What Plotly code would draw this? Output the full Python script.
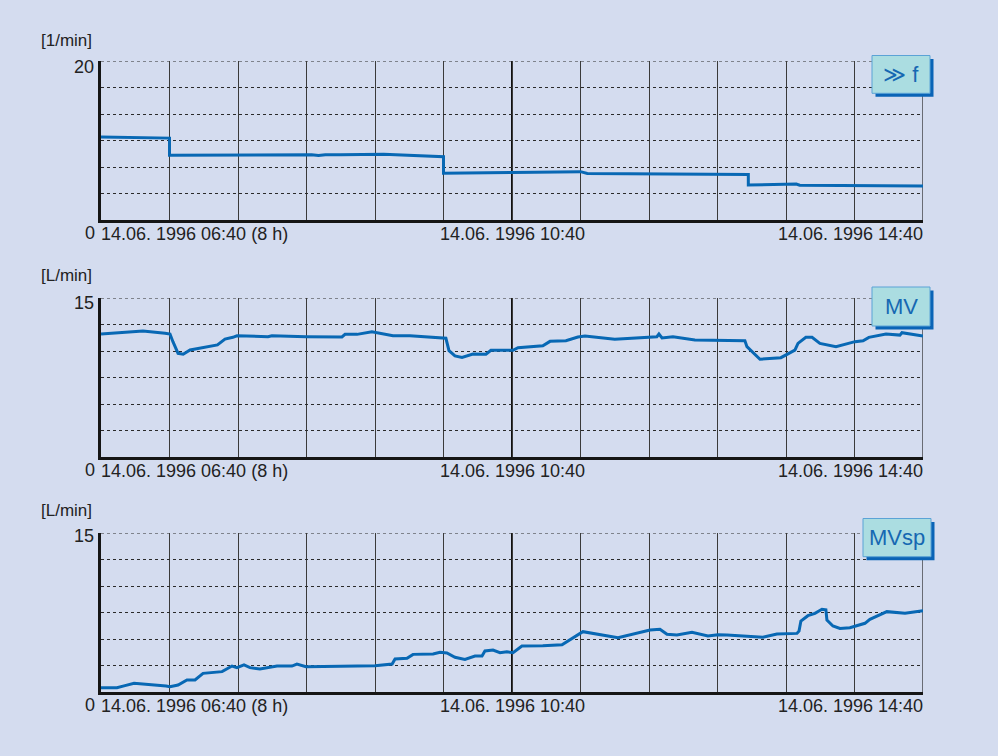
import pandas as pd
import plotly.graph_objects as go

# ---------------- data ----------------
START = pd.Timestamp("1996-06-14 06:40")
SPAN_MIN = 480

# f [1/min]  (minutes after 06:40)
f_t = [0, 40, 40, 120, 123, 127, 131, 140, 165, 200, 200, 240, 280, 284, 320, 361, 378, 378, 406, 408, 443, 480]
f_v = [10.45, 10.3, 8.15, 8.15, 8.2, 8.1, 8.2, 8.2, 8.27, 7.96, 5.87, 5.98, 6.08, 5.85, 5.8, 5.8, 5.72, 4.4, 4.53, 4.38, 4.35, 4.28]

# MV [L/min]
mv_t = [0, 11, 24.5, 37.4, 40.3, 42, 45, 48, 52, 68, 72.4, 77, 79.4, 97.5, 99.8, 119.7, 140.7, 142.5,
        149.5, 158.2, 170.5, 180.4, 201.4, 203.2, 206.7, 210.8, 217.2, 224.8, 227.7, 240.6, 243.5, 258,
        262.2, 271.5, 278.5, 282.6, 288.4, 300, 324.6, 325.8, 327.6, 334, 346.8, 376, 377.2, 384.8, 397,
        401.1, 405.2, 407, 411.6, 415.2, 419.8, 429.2, 440.3, 445, 448.4, 458.4, 466.5, 467.7, 480]
mv_v = [11.6, 11.76, 11.89, 11.67, 11.6, 10.88, 9.78, 9.69, 10.1, 10.57, 11.13, 11.29, 11.44, 11.35, 11.44,
        11.35, 11.33, 11.57, 11.57, 11.82, 11.44, 11.44, 11.2, 10.03, 9.53, 9.4, 9.72, 9.69, 10.06, 10.06,
        10.31, 10.5, 10.91, 10.97, 11.32, 11.41, 11.29, 11.1, 11.35, 11.6, 11.23, 11.35, 11.04, 10.97, 10.41,
        9.22, 9.37, 9.72, 10.09, 10.72, 11.29, 11.29, 10.72, 10.41, 10.88, 10.97, 11.29, 11.6, 11.5, 11.73, 11.41]

# MVsp [L/min]
mvsp_t = [0, 9.3, 14, 19.3, 38, 40.3, 45, 50.2, 54.9, 59.6, 70.7, 76.5, 79.4, 83.5, 87, 92.8, 102.8, 111.5,
          114.4, 119.7, 160, 170, 171.7, 178.7, 182.2, 193.9, 198, 202, 206.7, 212.5, 218.4, 222.5, 224.2,
          228.9, 233, 237, 240.6, 245.8, 258, 269.2, 281.4, 301.9, 320.6, 326.4, 330.5, 336.3, 345.1, 354.4,
          360.3, 365.5, 386.5, 394.7, 406.4, 407.6, 408.7, 412.8, 416.9, 421, 423.3, 423.9, 427.4, 431.5,
          437.3, 446.1, 449, 458.9, 469.5, 480]
mvsp_v = [0.41, 0.41, 0.6, 0.82, 0.57, 0.5, 0.66, 1.13, 1.13, 1.76, 1.92, 2.45, 2.3, 2.55, 2.3, 2.17, 2.45, 2.45,
          2.64, 2.39, 2.48, 2.64, 3.11, 3.18, 3.55, 3.58, 3.74, 3.68, 3.27, 3.08, 3.4, 3.4, 3.87, 3.96, 3.71,
          3.8, 3.71, 4.34, 4.37, 4.46, 5.69, 5.12, 5.85, 5.91, 5.44, 5.38, 5.63, 5.28, 5.41, 5.38, 5.16, 5.47,
          5.53, 5.75, 6.7, 7.2, 7.42, 7.8, 7.75, 6.79, 6.23, 6.0, 6.07, 6.48, 6.86, 7.58, 7.42, 7.67]

panel_names = ["≫ f", "MV", "MVsp"]
panel_units = ["[1/min]", "[L/min]", "[L/min]"]
panel_ymax = [20, 15, 15]
y_top_labels = ["20", "15", "15"]
y_zero_label = "0"
x_labels = ["14.06. 1996 06:40 (8 h)", "14.06. 1996 10:40", "14.06. 1996 14:40"]
x_label_min = [0, 240, 480]
series = [(f_t, f_v), (mv_t, mv_v), (mvsp_t, mvsp_v)]

# ---------------- styling / layout ----------------
W, H = 998, 756
BG = "#D4DCEF"
LINE = "#0868B4"
TXT = "#222222"
FONT = "Liberation Sans, Arial, DejaVu Sans, sans-serif"

X_LEFT, X_RIGHT = 101, 923
panel_px = [(61, 220), (298, 457), (533, 692)]   # top, bottom in pixels
box_px = [(872, 55.5, 930, 93.3), (872, 287, 930, 326), (863, 518.5, 931, 556.7)]
top_label_shift = [-5.5, -5, -3]
unit_shift = [21, 22.5, 23]


def px_x(x):
    return x / W


def px_y(y):
    return 1 - y / H


def tmin(m):
    return START + pd.to_timedelta(m, unit="min")


END = tmin(SPAN_MIN)

fig = go.Figure()
shapes = []
annotations = []

for i in range(3):
    k = "" if i == 0 else str(i + 1)
    xa, ya = "x" + k, "y" + k
    t, v = series[i]
    fig.add_trace(go.Scatter(
        x=[tmin(m) for m in t], y=v, mode="lines",
        line=dict(color=LINE, width=3), xaxis=xa, yaxis=ya,
        showlegend=False, hoverinfo="skip"))

    top, bot = panel_px[i]
    fig.update_layout(**{
        "xaxis" + k: dict(
            type="date", domain=[px_x(X_LEFT), px_x(X_RIGHT)], range=[START, END],
            anchor=ya, tick0=START, dtick=40 * 60 * 1000,
            showgrid=True, gridcolor="#3a3a3a", gridwidth=1,
            showticklabels=False, ticks="", zeroline=False,
            showline=True, linecolor="#151515", linewidth=3),
        "yaxis" + k: dict(
            domain=[px_y(bot), px_y(top)], range=[0, panel_ymax[i]],
            anchor=xa, tick0=0, dtick=panel_ymax[i] / 6,
            showgrid=True, gridcolor="#2a2a2a", gridwidth=1, griddash="3px,3px",
            showticklabels=False, ticks="", zeroline=False,
            showline=True, linecolor="#151515", linewidth=3),
    })

    # explicit top dashed line, right edge and darker centre line
    shapes.append(dict(type="line", xref=xa, yref=ya, x0=START, x1=END,
                       y0=panel_ymax[i], y1=panel_ymax[i],
                       line=dict(color="#2a2a2a", width=1, dash="3px,3px"), layer="below"))
    shapes.append(dict(type="line", xref=xa, yref=ya + " domain", x0=END, x1=END, y0=0, y1=1,
                       line=dict(color="#222222", width=1.2), layer="below"))
    shapes.append(dict(type="line", xref=xa, yref=ya + " domain", x0=tmin(240), x1=tmin(240),
                       y0=0, y1=1, line=dict(color="#111111", width=2), layer="below"))

    # label box with shadow
    bx0, by0, bx1, by1 = box_px[i]
    shapes.append(dict(type="rect", xref="paper", yref="paper",
                       x0=px_x(bx0 + 3.5), x1=px_x(bx1 + 3.5), y0=px_y(by1 + 3.5), y1=px_y(by0 + 3.5),
                       fillcolor="#0A64B6", line=dict(width=0), layer="above"))
    shapes.append(dict(type="rect", xref="paper", yref="paper",
                       x0=px_x(bx0), x1=px_x(bx1), y0=px_y(by1), y1=px_y(by0),
                       fillcolor="#ABDDE1", line=dict(color="#5BA3D6", width=1), layer="above"))
    annotations.append(dict(xref="paper", yref="paper", x=px_x((bx0 + bx1) / 2),
                            y=px_y((by0 + by1) / 2), text=panel_names[i], showarrow=False,
                            xanchor="center", yanchor="middle",
                            font=dict(family=FONT, size=22, color="#1668B2")))

    # y labels
    annotations.append(dict(xref=xa, yref=ya, x=START, y=panel_ymax[i], text=y_top_labels[i],
                            showarrow=False, xanchor="right", yanchor="middle",
                            xshift=-5, yshift=top_label_shift[i],
                            font=dict(family=FONT, size=18, color=TXT)))
    annotations.append(dict(xref=xa, yref=ya, x=START, y=0, text=y_zero_label,
                            showarrow=False, xanchor="right", yanchor="middle",
                            xshift=-4, yshift=-13,
                            font=dict(family=FONT, size=18, color=TXT)))
    annotations.append(dict(xref=xa, yref=ya, x=START, y=panel_ymax[i], text=panel_units[i],
                            showarrow=False, xanchor="right", yanchor="middle",
                            xshift=-7, yshift=unit_shift[i],
                            font=dict(family=FONT, size=17, color=TXT)))
    # x labels
    anchors = ["left", "center", "right"]
    for j in range(3):
        annotations.append(dict(xref=xa, yref=ya, x=tmin(x_label_min[j]), y=0, text=x_labels[j],
                                showarrow=False, xanchor=anchors[j], yanchor="middle",
                                xshift=(-2 if j == 0 else (2 if j == 2 else 0)), yshift=-14,
                                font=dict(family=FONT, size=18, color=TXT)))

fig.update_layout(
    width=W, height=H, margin=dict(l=0, r=0, t=0, b=0),
    paper_bgcolor=BG, plot_bgcolor=BG,
    shapes=shapes, annotations=annotations, showlegend=False,
)

fig.write_html("out.html", config={"displayModeBar": False},
               post_script="document.body.style.margin='0';document.body.style.overflow='hidden';")
